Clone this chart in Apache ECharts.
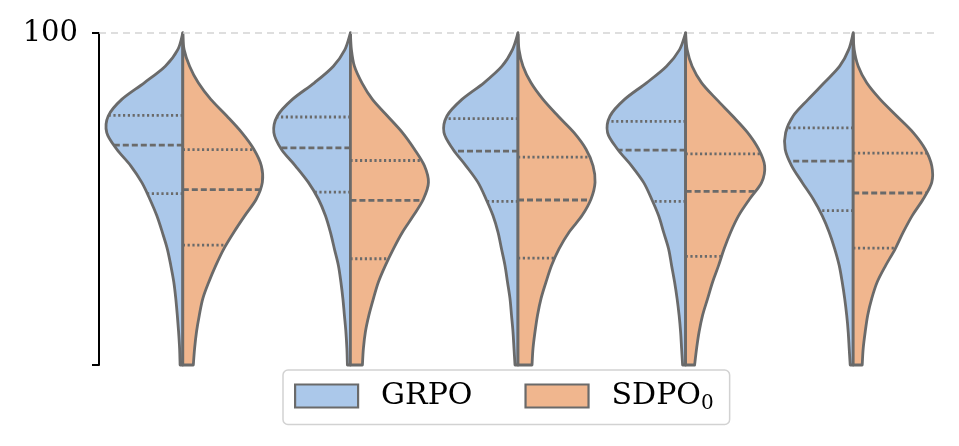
<!DOCTYPE html>
<html>
<head>
<meta charset="utf-8">
<script src="https://cdn.jsdelivr.net/npm/echarts@6/dist/echarts.min.js"></script>
<style>html,body{margin:0;padding:0;background:#fff}#c{width:959px;height:446px}</style>
</head>
<body>
<div id="c"></div>
<script>
// ---- data ----
const categories = ['1', '2', '3', '4', '5'];
const seriesNames = ['GRPO', 'SDPO0'];
// value levels (top to bottom) at which the density half-widths were read
const levels = [100, 95, 90, 85, 80, 75, 70, 65, 60, 55, 50, 45, 40, 35, 30, 25, 20, 15, 10, 5, 0];
// GRPO density half-widths (relative units) per category
const grpoDensity = [
  [0, 5, 17.5, 38.5, 61, 74.5, 76, 66, 52, 41, 33, 26, 20.5, 15.5, 12, 9, 7, 5.5, 4.2, 3.2, 2.7],
  [0, 5.5, 17, 36, 58, 73, 76.5, 69, 55, 42, 32, 25, 20, 16, 12, 9.5, 7.5, 6, 4.5, 3.5, 3],
  [0, 5.5, 16, 34, 56, 71, 74, 65, 52, 40, 32, 25, 20, 16.5, 13, 10.5, 8, 6.5, 5, 4, 3],
  [0, 6, 19, 39, 61, 75.5, 78, 68, 54, 42, 34, 27, 22, 17, 14, 11, 8.5, 6.5, 5, 4, 3],
  [0, 4.5, 13.5, 29, 45, 60, 67.5, 68, 61.5, 51, 40, 31, 24, 18.5, 14, 11, 8.5, 6.5, 5, 4, 3]
];
// SDPO0 density half-widths
const sdpoDensity = [
  [0, 1.3, 6.8, 15.5, 28, 44, 59, 71, 78.5, 79.5, 73.5, 62, 51, 41, 33, 26, 20, 16.5, 13.7, 11.8, 10.5],
  [0, 1, 4, 11.5, 22, 37, 52, 64, 74, 78, 73, 63, 52, 43, 35, 28, 23, 18.5, 15, 13, 12],
  [0, 1, 5, 13, 25, 40, 56, 68, 75, 77, 73, 64, 51, 41, 33.5, 28, 23, 19.5, 17, 15, 14],
  [0, 1.5, 6.5, 16, 31, 47, 62, 73, 79, 76, 64, 53, 45, 38.5, 33, 27, 22, 17, 13.5, 11, 9],
  [0, 1, 5, 13.5, 27, 43.5, 60, 72, 78.5, 78.5, 70, 59, 50, 42, 32.5, 24, 18.5, 14.5, 12, 10, 9]
];
// quartiles [Q1, median, Q3]
const grpoQuartiles = [[51.6, 66.2, 75.2], [52.1, 65.4, 74.7], [49.3, 64.4, 74.2], [49.3, 64.7, 73.4], [46.5, 61.4, 71.4]];
const sdpoQuartiles = [[36.1, 52.8, 64.9], [32.0, 49.6, 61.6], [32.2, 49.7, 62.6], [32.7, 52.3, 63.6], [35.2, 51.8, 63.8]];
const yTicks = [0, 100];
const yTickLabels = ['', '100'];

// ---- style ----
const FONT = 'DejaVu Serif';
const EDGE = '#6a6a6a';
const colors = ['#abc8ea', '#f0b68e'];
const REF_BAND = 167.5;
const LW = 2.8;

function ctrl(pts, i) {
  const p0 = pts[i - 1] || pts[i], p1 = pts[i], p2 = pts[i + 1], p3 = pts[i + 2] || pts[i + 1];
  return [
    [p1[0] + (p2[0] - p0[0]) / 6, p1[1] + (p2[1] - p0[1]) / 6],
    [p2[0] - (p3[0] - p1[0]) / 6, p2[1] - (p3[1] - p1[1]) / 6]
  ];
}

function makeRender(dens, quarts, side, color) {
  return function (params, api) {
    const i = api.value(0);
    const cx = api.coord([i, 0])[0];
    const band = api.size([1, 0])[0];
    const k = band / REF_BAND;
    const pts = levels.map((v, j) => [cx + side * dens[i][j] * k, api.coord([i, v])[1]]);
    let d = 'M' + cx + ',' + pts[0][1] + ' L' + pts[0][0] + ',' + pts[0][1];
    for (let s = 0; s < pts.length - 1; s++) {
      const c = ctrl(pts, s);
      d += ' C' + c[0][0] + ',' + c[0][1] + ' ' + c[1][0] + ',' + c[1][1] + ' ' + pts[s + 1][0] + ',' + pts[s + 1][1];
    }
    d += ' L' + cx + ',' + pts[pts.length - 1][1] + ' Z';
    const children = [{
      type: 'path',
      shape: { pathData: d },
      style: { fill: color, stroke: null }
    }];
    quarts[i].forEach((q, qi) => {
      const f = (levels[0] - q) / (levels[0] - levels[1]);
      const s = Math.min(Math.floor(f), pts.length - 2);
      const u = f - s;
      const c = ctrl(pts, s);
      const x = Math.pow(1 - u, 3) * pts[s][0] + 3 * Math.pow(1 - u, 2) * u * c[0][0] + 3 * (1 - u) * u * u * c[1][0] + u * u * u * pts[s + 1][0];
      const y = api.coord([i, q])[1];
      children.push({
        type: 'line',
        shape: { x1: cx, y1: y, x2: x, y2: y },
        style: { stroke: EDGE, lineWidth: LW, lineDash: qi === 1 ? [6, 3] : [2.2, 2.6] }
      });
    });
    children.push({
      type: 'path',
      shape: { pathData: d },
      style: { fill: null, stroke: EDGE, lineWidth: LW, lineJoin: 'round' }
    });
    return { type: 'group', children: children };
  };
}

const chart = echarts.init(document.getElementById('c'), null, { renderer: 'canvas' });
chart.setOption({
  animation: false,
  backgroundColor: '#fff',
  grid: { left: 99, right: 22, top: 33, bottom: 81, containLabel: false },
  xAxis: {
    type: 'category', data: categories, boundaryGap: true,
    axisLine: { show: false }, axisTick: { show: false }, axisLabel: { show: false }, splitLine: { show: false }
  },
  yAxis: {
    type: 'value', min: yTicks[0], max: yTicks[1], interval: yTicks[1] - yTicks[0],
    axisLine: { show: true, lineStyle: { color: '#000', width: 2 } },
    axisTick: { show: true, length: 7, lineStyle: { color: '#000', width: 2 } },
    axisLabel: {
      margin: 21, color: '#000', fontFamily: FONT, fontSize: 29,
      formatter: v => yTickLabels[yTicks.indexOf(v)] || ''
    },
    splitLine: { show: false }
  },
  legend: {
    left: 283, top: 370,
    orient: 'horizontal',
    padding: [11, 16, 11, 11],
    itemWidth: 63, itemHeight: 23, itemGap: 52,
    borderColor: '#d2d2d2', borderWidth: 1.5, borderRadius: 5, backgroundColor: '#fff',
    data: seriesNames.map((n, idx) => ({
      name: n, icon: 'rect',
      itemStyle: { color: colors[idx], borderColor: EDGE, borderWidth: 2.2 }
    })),
    formatter: n => n === 'SDPO0' ? '{n|SDPO}{s|0}' : '{n|' + n + '}',
    textStyle: {
      color: '#000', fontFamily: FONT, fontSize: 30, padding: [0, 0, 0, 18],
      rich: {
        n: { fontFamily: FONT, fontSize: 30, color: '#000' },
        s: { fontFamily: FONT, fontSize: 20, color: '#000', padding: [15, 0, 0, 0] }
      }
    }
  },
  series: [
    {
      name: seriesNames[0], type: 'custom',
      itemStyle: { color: colors[0], borderColor: EDGE },
      data: categories.map((c, i) => [i]),
      renderItem: makeRender(grpoDensity, grpoQuartiles, -1, colors[0]),
      markLine: {
        silent: true, symbol: ['none', 'none'],
        label: { show: false },
        lineStyle: { color: '#d3d3d3', type: [7, 5], width: 1.5 },
        data: [{ yAxis: 100 }]
      },
      z: 2
    },
    {
      name: seriesNames[1], type: 'custom',
      itemStyle: { color: colors[1], borderColor: EDGE },
      data: categories.map((c, i) => [i]),
      renderItem: makeRender(sdpoDensity, sdpoQuartiles, 1, colors[1]),
      z: 2
    }
  ]
});
</script>
</body>
</html>
